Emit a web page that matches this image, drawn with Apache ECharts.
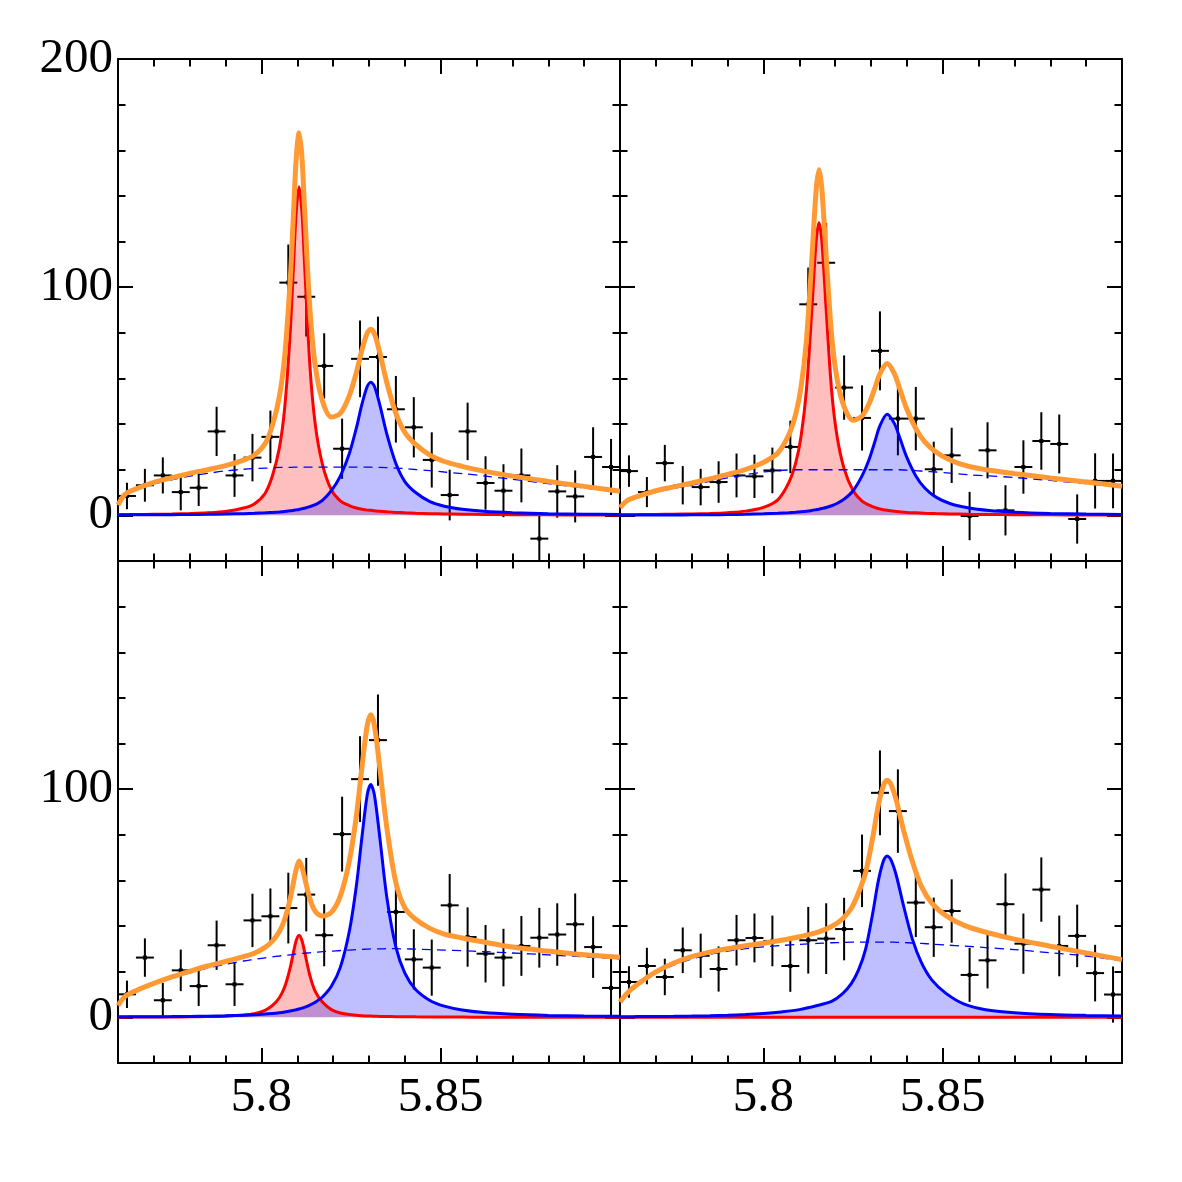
<!DOCTYPE html>
<html><head><meta charset="utf-8">
<script src="https://cdn.jsdelivr.net/npm/echarts@6/dist/echarts.min.js"></script>
<style>html,body{margin:0;padding:0;background:#fff}#c{width:1182px;height:1182px}</style>
</head><body><div id="c"></div>
<script>
// ---- data ----
const binCenters = [5.7625, 5.7675, 5.7725, 5.7775, 5.7825, 5.7875, 5.7925, 5.7975, 5.8025, 5.8075, 5.8125, 5.8175, 5.8225, 5.8275, 5.8325, 5.8375, 5.8425, 5.8475, 5.8525, 5.8575, 5.8625, 5.8675, 5.8725, 5.8775, 5.8825, 5.8875, 5.8925, 5.8975];
const binHalfWidth = 0.0025;

const tlVal = [8.5, 13.2, 17.5, 10.2, 12.1, 36.8, 17.5, 25.3, 34.4, 102.0, 95.8, 65.5, 29.2, 68.6, 69.4, 46.5, 38.6, 24.3, 8.9, 36.8, 14.2, 10.8, 17.5, -10.2, 10.5, 8.3, 25.6, 21.2];
const tlErr = [5.8, 7.2, 7.9, 8.0, 8.0, 10.8, 9.4, 10.4, 11.5, 16.7, 17.4, 14.3, 13.2, 16.8, 17.7, 14.6, 13.2, 12.1, 11.1, 12.6, 11.7, 11.6, 11.8, 10.2, 11.5, 11.4, 13.0, 12.3];
const trVal = [19.4, 10.2, 22.9, 13.2, 12.4, 14.6, 17.5, 17.1, 19.7, 30.0, 92.5, 110.7, 56.0, 42.7, 72.1, 42.4, 42.4, 20.2, 26.3, -0.3, 28.5, 2.2, 21.2, 32.6, 31.3, -1.6, 15.1, 15.1];
const trErr = [6.9, 6.6, 8.0, 8.4, 8.0, 9.1, 9.6, 9.5, 10.0, 11.5, 16.1, 17.5, 14.1, 14.3, 17.3, 16.1, 13.9, 12.1, 12.1, 10.6, 12.3, 11.0, 11.7, 12.6, 12.9, 10.8, 12.1, 12.0];
const blVal = [10.1, 26.2, 7.5, 20.6, 13.7, 31.6, 14.5, 42.5, 44.3, 47.9, 53.8, 36.0, 80.3, 104.4, 121.5, 46.2, 25.4, 21.8, 49.1, 35.2, 27.9, 26.2, 31.3, 34.9, 36.3, 40.8, 30.8, 12.9];
const blErr = [6.0, 8.4, 7.6, 9.1, 8.7, 10.8, 9.5, 11.7, 12.2, 15.5, 16.1, 13.6, 16.4, 18.8, 20.0, 15.2, 13.2, 12.3, 13.7, 13.0, 12.6, 12.6, 13.1, 13.1, 13.7, 13.5, 13.5, 12.7];
const brVal = [15.5, 22.5, 17.7, 29.4, 27.0, 21.2, 33.8, 34.8, 33.5, 22.5, 33.8, 34.5, 38.7, 64.2, 98.4, 90.4, 50.3, 39.5, 46.6, 18.6, 25.0, 49.6, 32.3, 56.0, 31.3, 35.7, 19.4, 10.0];
const brErr = [6.9, 8.0, 8.0, 10.0, 9.7, 9.9, 11.1, 10.7, 11.1, 11.3, 14.6, 15.5, 13.7, 15.9, 18.6, 18.3, 15.1, 13.0, 13.9, 11.8, 12.3, 13.5, 13.2, 14.1, 13.3, 13.7, 12.4, 12.3];

// curves, top-left
const tlX = [5.760, 5.762, 5.765, 5.770, 5.775, 5.780, 5.785, 5.790, 5.795, 5.798, 5.801, 5.803, 5.805, 5.8065, 5.808, 5.809, 5.8097, 5.8105, 5.8113, 5.812, 5.8135, 5.815, 5.817, 5.8195, 5.822, 5.8245, 5.8265, 5.828, 5.8295, 5.8305, 5.8315, 5.833, 5.835, 5.8375, 5.840, 5.843, 5.847, 5.851, 5.856, 5.862, 5.870, 5.880, 5.890, 5.900];
const tlRed = [0.32, 0.35, 0.39, 0.48, 0.6, 0.8, 1.1, 1.7, 3.2, 5.0, 9.6, 17.0, 29.5, 47.3, 79.5, 111, 133, 144, 133, 111, 66, 40, 22.5, 11.2, 6.4, 4.3, 3.2, 2.7, 2.3, 2.2, 2.0, 1.8, 1.55, 1.3, 1.12, 0.95, 0.76, 0.62, 0.5, 0.38, 0.3, 0.23, 0.18, 0.15];
const tlBlue = [0.2, 0.21, 0.22, 0.26, 0.3, 0.37, 0.45, 0.58, 0.75, 0.9, 1.1, 1.3, 1.5, 1.7, 2.0, 2.2, 2.4, 2.6, 2.9, 3.1, 3.8, 4.7, 6.6, 10.8, 17.2, 27.0, 38.4, 48.5, 56.5, 58.3, 56.6, 48.5, 35.5, 22.7, 14.8, 10.0, 6.0, 4.0, 2.65, 1.76, 1.14, 0.73, 0.51, 0.37];
const tlBg = [4.0, 8.7, 11.0, 13.8, 15.6, 17.2, 18.4, 19.5, 20.2, 20.5, 20.7, 20.8, 21.0, 21.0, 21.0, 21.1, 21.1, 21.1, 21.1, 21.1, 21.1, 21.1, 21.1, 21.1, 21.1, 21.1, 21.1, 21.1, 21.1, 21.1, 21.0, 21.0, 20.9, 20.7, 20.5, 20.1, 19.6, 19.0, 18.3, 17.3, 15.8, 13.9, 12.0, 10.1];
const tlTotal = [4.5, 9.3, 11.6, 14.5, 16.5, 18.4, 20.0, 21.8, 24.2, 26.4, 31.4, 39.1, 52.0, 70.0, 102.5, 134.3, 156.5, 167.7, 157.0, 135.2, 90.9, 65.8, 50.2, 43.1, 44.7, 52.4, 62.7, 72.3, 79.9, 81.6, 79.6, 71.3, 58.0, 44.7, 36.4, 31.1, 26.4, 23.6, 21.5, 19.4, 17.2, 14.9, 12.7, 10.6];

// curves, top-right
const trX = [5.760, 5.762, 5.765, 5.770, 5.775, 5.780, 5.785, 5.790, 5.795, 5.800, 5.804, 5.807, 5.809, 5.8105, 5.812, 5.8135, 5.8147, 5.8155, 5.8163, 5.8175, 5.819, 5.8205, 5.8225, 5.825, 5.8275, 5.8295, 5.831, 5.8325, 5.8345, 5.8365, 5.838, 5.840, 5.8425, 5.845, 5.848, 5.852, 5.857, 5.863, 5.870, 5.880, 5.890, 5.900];
const trRed = [0.28, 0.3, 0.33, 0.41, 0.51, 0.65, 0.85, 1.2, 1.86, 3.5, 6.8, 14.1, 23, 34.7, 55, 90, 120, 128.2, 120, 90, 55, 35, 20.5, 10.9, 6.2, 4.5, 3.5, 2.8, 2.2, 1.77, 1.54, 1.28, 1.1, 0.92, 0.77, 0.63, 0.49, 0.38, 0.29, 0.22, 0.17, 0.14];
const trBlue = [0.12, 0.13, 0.14, 0.16, 0.19, 0.23, 0.28, 0.34, 0.48, 0.68, 0.89, 1.14, 1.36, 1.57, 1.82, 2.16, 2.48, 2.7, 2.98, 3.45, 4.2, 5.2, 7.1, 10.8, 17.3, 24.6, 31.9, 39.3, 44.3, 40.3, 34.1, 25.4, 17.3, 12.0, 8.1, 5.2, 3.3, 2.1, 1.4, 0.86, 0.58, 0.42];
const trBg = [3.0, 6.1, 7.8, 10.2, 11.8, 13.3, 14.9, 16.4, 17.8, 19.0, 19.6, 19.9, 20.0, 20.0, 20.0, 20.0, 20.0, 20.0, 20.0, 20.0, 20.0, 20.0, 20.0, 20.0, 20.0, 20.0, 20.0, 20.0, 20.0, 20.0, 20.0, 19.8, 19.6, 19.3, 19.0, 18.5, 17.8, 17.3, 16.6, 15.3, 13.9, 12.2];
const trTotal = [3.4, 6.5, 8.3, 10.8, 12.5, 14.2, 16.0, 17.9, 20.1, 23.2, 27.3, 35.1, 44.4, 56.3, 76.8, 112.2, 142.5, 151.5, 143.0, 113.5, 79.2, 60.2, 47.6, 41.7, 43.5, 49.1, 55.4, 62.1, 66.5, 62.1, 55.6, 46.5, 38.0, 32.2, 27.9, 24.3, 21.6, 19.8, 18.3, 16.4, 14.65, 12.8];

// curves, bottom-left
const blX = [5.760, 5.762, 5.765, 5.770, 5.775, 5.780, 5.785, 5.790, 5.795, 5.798, 5.801, 5.803, 5.805, 5.8065, 5.808, 5.809, 5.8097, 5.8105, 5.8113, 5.812, 5.8135, 5.815, 5.817, 5.8195, 5.822, 5.8245, 5.8265, 5.828, 5.8295, 5.8305, 5.8315, 5.833, 5.835, 5.8375, 5.840, 5.843, 5.847, 5.851, 5.856, 5.862, 5.870, 5.880, 5.890, 5.900];
const blRed = [0.09, 0.1, 0.12, 0.14, 0.18, 0.24, 0.34, 0.52, 0.99, 1.6, 3.1, 5.1, 8.6, 13.4, 21.6, 29.0, 33.7, 36.0, 33.7, 29.0, 18.4, 11.4, 6.7, 3.4, 1.9, 1.26, 0.94, 0.76, 0.61, 0.56, 0.5, 0.43, 0.36, 0.31, 0.26, 0.22, 0.18, 0.14, 0.12, 0.09, 0.07, 0.05, 0.04, 0.03];
const blBlue = [0.22, 0.23, 0.25, 0.29, 0.35, 0.42, 0.52, 0.67, 0.93, 1.14, 1.45, 1.72, 2.06, 2.38, 2.77, 3.12, 3.37, 3.69, 4.05, 4.39, 5.34, 6.58, 8.9, 13.6, 21.9, 37.6, 57.9, 78.6, 97.4, 102, 97.6, 79.0, 52.3, 30.8, 19.4, 12.2, 7.4, 4.9, 3.2, 2.1, 1.37, 0.87, 0.61, 0.45];
const blBg = [4.9, 8.9, 11.3, 14.5, 17.2, 19.5, 21.6, 23.3, 24.7, 25.4, 26.1, 26.5, 26.9, 27.2, 27.4, 27.6, 27.8, 27.9, 28.0, 28.1, 28.3, 28.5, 28.8, 29.0, 29.3, 29.5, 29.7, 29.8, 29.9, 30.0, 30.0, 30.0, 30.1, 30.1, 30.0, 29.9, 29.7, 29.5, 29.2, 28.8, 28.2, 27.4, 26.5, 25.6];
const blTotal = [5.2, 9.2, 11.7, 14.9, 17.7, 20.2, 22.5, 24.5, 26.6, 28.1, 30.7, 33.3, 37.6, 43.0, 51.8, 59.7, 64.9, 68.5, 65.8, 61.5, 52.0, 46.5, 44.4, 46.0, 53.1, 68.4, 88.5, 109.2, 127.9, 132.6, 128.1, 109.4, 82.8, 59.0, 48.0, 43.0, 39.0, 36.5, 34.8, 33.0, 30.8, 29.0, 27.4, 26.3];

// curves, bottom-right
const brX = [5.760, 5.762, 5.765, 5.770, 5.775, 5.780, 5.785, 5.790, 5.795, 5.800, 5.805, 5.810, 5.815, 5.819, 5.822, 5.8245, 5.8265, 5.8285, 5.8305, 5.832, 5.8335, 5.8345, 5.8355, 5.837, 5.839, 5.8415, 5.844, 5.847, 5.851, 5.856, 5.862, 5.870, 5.880, 5.890, 5.900];
const brRed = [0, 0, 0, 0, 0, 0, 0, 0, 0, 0, 0, 0, 0, 0, 0, 0, 0, 0, 0, 0, 0, 0, 0, 0, 0, 0, 0, 0, 0, 0, 0, 0, 0, 0, 0];
const brBlue = [0.29, 0.31, 0.33, 0.39, 0.47, 0.57, 0.71, 0.92, 1.23, 1.7, 2.4, 3.4, 5.2, 7.0, 10.3, 14.8, 20.7, 29.9, 45.8, 59.5, 68.7, 70.7, 69.2, 62.5, 49.4, 34.5, 24.2, 16.3, 10.4, 5.8, 3.37, 2.06, 1.26, 0.86, 0.62];
const brBg = [6.5, 10.3, 14.5, 19.3, 23.0, 25.6, 27.6, 29.0, 30.1, 30.9, 31.5, 32.0, 32.4, 32.7, 32.8, 33.0, 33.0, 33.0, 33.0, 33.0, 33.0, 33.0, 33.0, 32.9, 32.8, 32.6, 32.4, 32.1, 31.7, 31.2, 30.6, 29.7, 28.3, 26.9, 24.8];
const brTotal = [6.7, 10.6, 14.6, 19.9, 23.8, 26.6, 28.6, 30.1, 31.4, 32.5, 33.8, 35.3, 37.2, 39.8, 43.1, 47.8, 54.5, 63.5, 79.0, 92.5, 101.7, 103.9, 102.4, 95.4, 82.5, 68.5, 57.5, 50.0, 44.5, 40.3, 37.3, 34.3, 31.2, 28.2, 25.3];

// ticks
const xMajorTicks = [5.80, 5.85];
const xMinorTicks = [5.77, 5.78, 5.79, 5.81, 5.82, 5.83, 5.84, 5.86, 5.87, 5.88, 5.89];
const yMajorTicks = [0, 100, 200];
const yMinorTicks = [20, 40, 60, 80, 120, 140, 160, 180];
const tlYLabels = [0, 100, 200];
const blYLabels = [0, 100];

// ---- layout & styling ----
const FONT = '"Liberation Serif", "Times New Roman", serif';
const PW = 502, PH = 502;
const panels = [
  {left:118, top:59,  x:tlX, red:tlRed, blue:tlBlue, bg:tlBg, tot:tlTotal, val:tlVal, err:tlErr, xLab:false, yLab:tlYLabels},
  {left:620, top:59,  x:trX, red:trRed, blue:trBlue, bg:trBg, tot:trTotal, val:trVal, err:trErr, xLab:false, yLab:null},
  {left:118, top:561, x:blX, red:blRed, blue:blBlue, bg:blBg, tot:blTotal, val:blVal, err:blErr, xLab:true, yLab:blYLabels},
  {left:620, top:561, x:brX, red:brRed, blue:brBlue, bg:brBg, tot:brTotal, val:brVal, err:brErr, xLab:true, yLab:null}
];

const grid = [], xAxis = [], yAxis = [], series = [];
const tickStyle = {color:'#000', width:2};
function xAx(g, pos, major, lab) {
  return {gridIndex:g, type:'value', min:5.76, max:5.90, position:pos,
    axisLine:{show:major, onZero:false, lineStyle:tickStyle},
    axisTick:{show:true, inside:true, length: major?15:7.5, customValues: major?xMajorTicks:xMinorTicks, lineStyle:tickStyle},
    axisLabel:{show:!!lab, customValues:xMajorTicks, margin:11, color:'#000', fontFamily:FONT, fontSize:49},
    splitLine:{show:false}, minorTick:{show:false}};
}
function yAx(g, pos, major, lab) {
  return {gridIndex:g, type:'value', min:-20, max:200, position:pos,
    axisLine:{show:major, onZero:false, lineStyle:tickStyle},
    axisTick:{show:true, inside:true, length: major?15:7.5, customValues: major?yMajorTicks:yMinorTicks, lineStyle:tickStyle},
    axisLabel:{show:!!lab, customValues: lab || yMajorTicks, margin:5, color:'#000', fontFamily:FONT, fontSize:49},
    splitLine:{show:false}, minorTick:{show:false}};
}
function zip(xs, ys){ return xs.map((x,i)=>[x, ys[i]]); }

panels.forEach((p, g) => {
  grid.push({left:p.left, top:p.top, width:PW, height:PH, containLabel:false});
  xAxis.push(xAx(g,'bottom',true,p.xLab), xAx(g,'bottom',false,false), xAx(g,'top',true,false), xAx(g,'top',false,false));
  yAxis.push(yAx(g,'left',true,p.yLab), yAx(g,'left',false,null), yAx(g,'right',true,null), yAx(g,'right',false,null));
  const xi = 4*g, yi = 4*g;
  const common = {type:'line', xAxisIndex:xi, yAxisIndex:yi, showSymbol:false, symbol:'none', smooth:0.3, animation:false, silent:true, clip:true};
  series.push(Object.assign({}, common, {data:zip(p.x,p.red), lineStyle:{color:'#ff0000', width:3}, areaStyle:{color:'rgba(255,0,0,0.36)', origin:'auto'}}));
  series.push(Object.assign({}, common, {data:zip(p.x,p.blue), lineStyle:{color:'#0000ff', width:3}, areaStyle:{color:'rgba(0,0,255,0.36)', origin:'auto'}}));
  series.push(Object.assign({}, common, {data:zip(p.x,p.bg), lineStyle:{color:'#0000ff', width:1.3, type:[9,6]}}));
  series.push(Object.assign({}, common, {data:zip(p.x,p.tot), lineStyle:{color:'#ff9933', width:5}}));
  series.push({type:'custom', xAxisIndex:xi, yAxisIndex:yi, animation:false, silent:true, clip:true,
    data: binCenters.map((c,i)=>[c, p.val[i], p.err[i]]),
    renderItem: function(params, api){
      const x = api.value(0), y = api.value(1), e = api.value(2);
      const c = api.coord([x,y]), t = api.coord([x,y+e]), b = api.coord([x,y-e]);
      const l = api.coord([x-binHalfWidth,y]), r = api.coord([x+binHalfWidth,y]);
      const st = {stroke:'#000', lineWidth:2};
      return {type:'group', children:[
        {type:'line', shape:{x1:c[0], y1:t[1], x2:c[0], y2:b[1]}, style:st},
        {type:'line', shape:{x1:l[0], y1:c[1], x2:r[0], y2:c[1]}, style:st},
        {type:'rect', shape:{x:c[0]-2, y:c[1]-2, width:4, height:4}, style:{fill:'#000'}}
      ]};
    }});
});

const chart = echarts.init(document.getElementById('c'), null, {renderer:'canvas'});
chart.setOption({animation:false, backgroundColor:'#fff', grid, xAxis, yAxis, series});
</script>
</body></html>
